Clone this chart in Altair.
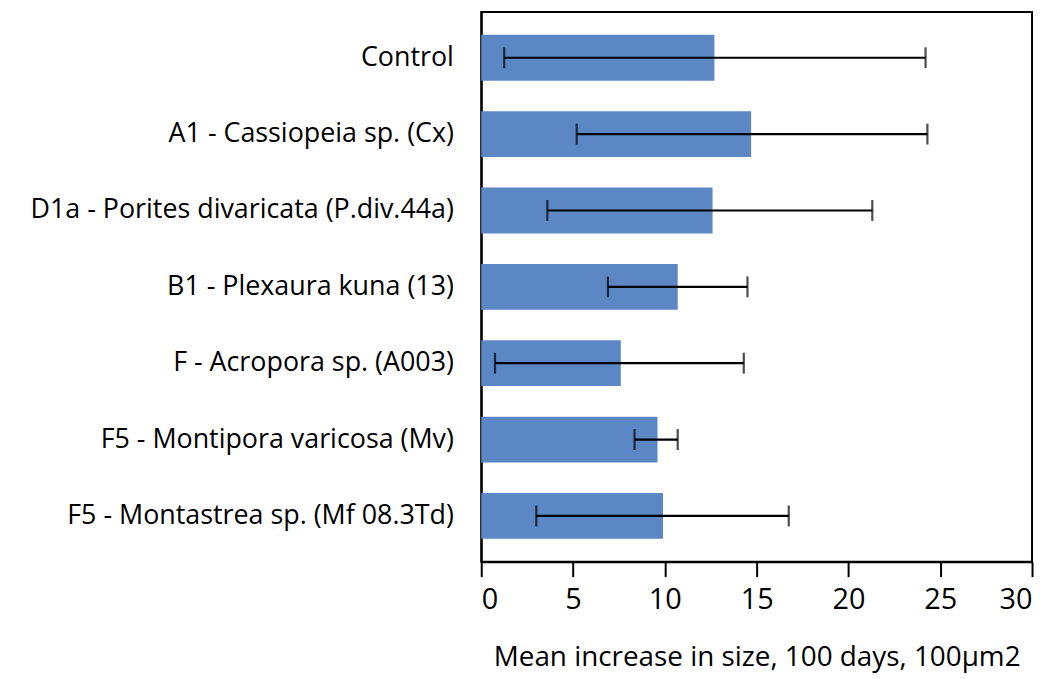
import altair as alt
import pandas as pd

categories = [
    "Control",
    "A1 - Cassiopeia sp. (Cx)",
    "D1a - Porites divaricata (P.div.44a)",
    "B1 - Plexaura kuna (13)",
    "F - Acropora sp. (A003)",
    "F5 - Montipora varicosa (Mv)",
    "F5 - Montastrea sp.  (Mf 08.3Td)",
]
means = [12.7, 14.7, 12.6, 10.7, 7.6, 9.6, 9.9]
err_low = [1.25, 5.2, 3.6, 6.9, 0.75, 8.35, 3.0]
err_high = [24.2, 24.3, 21.3, 14.5, 14.3, 10.7, 16.75]
x_ticks = [0, 5, 10, 15, 20, 25, 30]

df = pd.DataFrame({"cat": categories, "mean": means, "lo": err_low, "hi": err_high})

FONT = "Open Sans"

y_enc = alt.Y(
    "cat:N",
    sort=categories,
    scale=alt.Scale(paddingInner=0.4, paddingOuter=0.3),
    axis=alt.Axis(
        title=None, ticks=False, domain=True, domainColor="black", domainWidth=2,
        labelFontSize=27, labelFont=FONT,
        labelColor="black", labelPadding=28, labelLimit=0,
    ),
)
x_scale = alt.Scale(domain=[0, 30], nice=False, zero=True)

bars = alt.Chart(df).mark_bar(color="#5b87c5").encode(
    x=alt.X(
        "mean:Q",
        scale=x_scale,
        axis=alt.Axis(
            values=x_ticks, title="Mean increase in size, 100 days, 100µm2",
            titleFont=FONT, titleFontSize=28, titleFontWeight="normal",
            titleColor="black", titlePadding=29,
            labelFont=FONT, labelFontSize=29, labelColor="black", labelPadding=9,
            tickColor="black", tickSize=15, tickWidth=2,
            domainColor="black", domainWidth=2, grid=False,
        ),
    ),
    y=y_enc,
)

rules = alt.Chart(df).mark_rule(color="black", strokeWidth=2.2).encode(
    x=alt.X("lo:Q", scale=x_scale), x2="hi:Q", y=alt.Y("cat:N", sort=categories)
)
cap_lo = alt.Chart(df).mark_tick(color="black", thickness=2.2, size=21).encode(
    x=alt.X("lo:Q", scale=x_scale), y=alt.Y("cat:N", sort=categories)
)
cap_hi = alt.Chart(df).mark_tick(color="black", thickness=2.2, size=21).encode(
    x=alt.X("hi:Q", scale=x_scale), y=alt.Y("cat:N", sort=categories)
)

chart = (
    alt.layer(bars, rules, cap_lo, cap_hi)
    .properties(
        width=554, height=553,
        background="white",
        autosize=alt.AutoSizeParams(type="none"),
        padding={"left": 476, "top": 2, "right": 6, "bottom": 116},
    )
    .configure_view(stroke="black", strokeWidth=2)
)

chart.save("out.html", embed_options={"renderer": "svg", "actions": False})
